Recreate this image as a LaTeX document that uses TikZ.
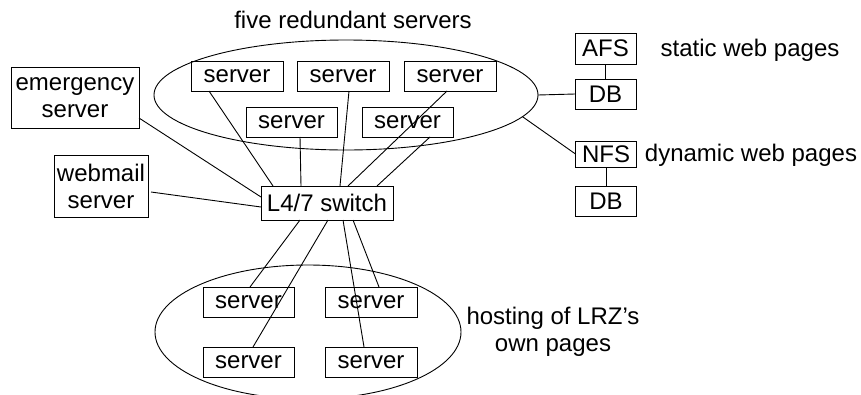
\documentclass[tikz,border=0pt]{standalone}
\usepackage{fontspec}
\setmainfont{Liberation Sans}
\usetikzlibrary{shapes.geometric}
\begin{document}
\begin{tikzpicture}[x=1pt,y=-1pt,
  every node/.style={font=\fontsize{24}{27}\selectfont},
  box/.style={draw,line width=0.9pt,inner sep=0pt,outer sep=0pt,align=center},
  srv/.style={box,minimum width=92pt,minimum height=30pt},
  grp/.style={draw,ellipse,line width=0.9pt,inner sep=0pt,outer sep=0pt},
  link/.style={line width=0.9pt},
  lbl/.style={inner sep=0pt,align=center}]
\useasboundingbox (0,0) rectangle (861,394);
\clip (0,0) rectangle (861,394);

% server groups
\node[grp,minimum width=384pt,minimum height=110pt] (top) at (346,95) {};
\node[grp,minimum width=306pt,minimum height=134pt] (own) at (308,332) {};

% five redundant servers
\node[srv] (s1) at (237,76) {server};
\node[srv] (s2) at (343,76) {server};
\node[srv] (s3) at (450,76) {server};
\node[srv,minimum width=91pt] (s4) at (291.5,122) {server};
\node[srv,minimum width=91pt] (s5) at (407.5,122) {server};

% standalone hosts and switch
\node[box,minimum width=128pt,minimum height=61pt] (em) at (75,97.5) {emergency\\server};
\node[box,minimum width=94pt,minimum height=62pt] (wm) at (101,186) {webmail\\server};
\node[box,minimum width=132pt,minimum height=34pt] (sw) at (327,203) {L4/7 switch};

% storage
\node[box,minimum width=61pt,minimum height=31pt] (afs) at (605.5,48.5) {AFS};
\node[box,minimum width=61pt,minimum height=30pt] (db1) at (605.5,94) {DB};
\node[box,minimum width=61pt,minimum height=26pt] (nfs) at (606,154) {NFS};
\node[box,minimum width=61pt,minimum height=30pt] (db2) at (606,201) {DB};

% own pages servers
\node[srv,minimum width=91pt] (b1) at (248.5,302) {server};
\node[srv] (b2) at (371,302) {server};
\node[srv,minimum width=91pt] (b3) at (248.5,362) {server};
\node[srv] (b4) at (371,362) {server};

% labels
\node[lbl] (t1) at (353,20) {five redundant servers};
\node[lbl] (t2) at (750,50) {static web pages};
\node[lbl] (t3) at (751,155) {dynamic web pages};
\node[lbl] (t4) at (553,332) {hosting of LRZ's\\own pages};

% connectors
\draw[link] ([xshift=-28pt]s1.south) -- ([xshift=-54pt]sw.north);
\draw[link] ([xshift=8.5pt]s4.south) -- ([xshift=-26pt]sw.north);
\draw[link] ([xshift=6pt]s2.south) -- ([xshift=13pt]sw.north);
\draw[link] ([xshift=-3pt]s3.south) -- ([xshift=21pt]sw.north);
\draw[link] ([xshift=22.5pt]s5.south) -- ([xshift=50pt]sw.north);
\draw[link] ([yshift=-20.5pt]em.east) -- ([yshift=6pt]sw.west);
\draw[link] ([xshift=3pt,yshift=-6pt]wm.east) -- ([yshift=-4pt]sw.west);
\draw[link] ([xshift=-27pt]sw.south) -- ([xshift=1.5pt]b1.north);
\draw[link] ([xshift=1pt]sw.south) -- ([xshift=4.5pt]b3.north);
\draw[link] ([xshift=16pt]sw.south) -- ([xshift=-7pt]b4.north);
\draw[link] ([xshift=26pt]sw.south) -- ([xshift=8pt]b2.north);
\draw[link] (top.east) -- (db1.west);
\draw[link] (top.-7.5) -- (nfs.west);
\draw[link] (afs.south) -- (db1.north);
\draw[link] (nfs.south) -- (db2.north);
\end{tikzpicture}
\end{document}
